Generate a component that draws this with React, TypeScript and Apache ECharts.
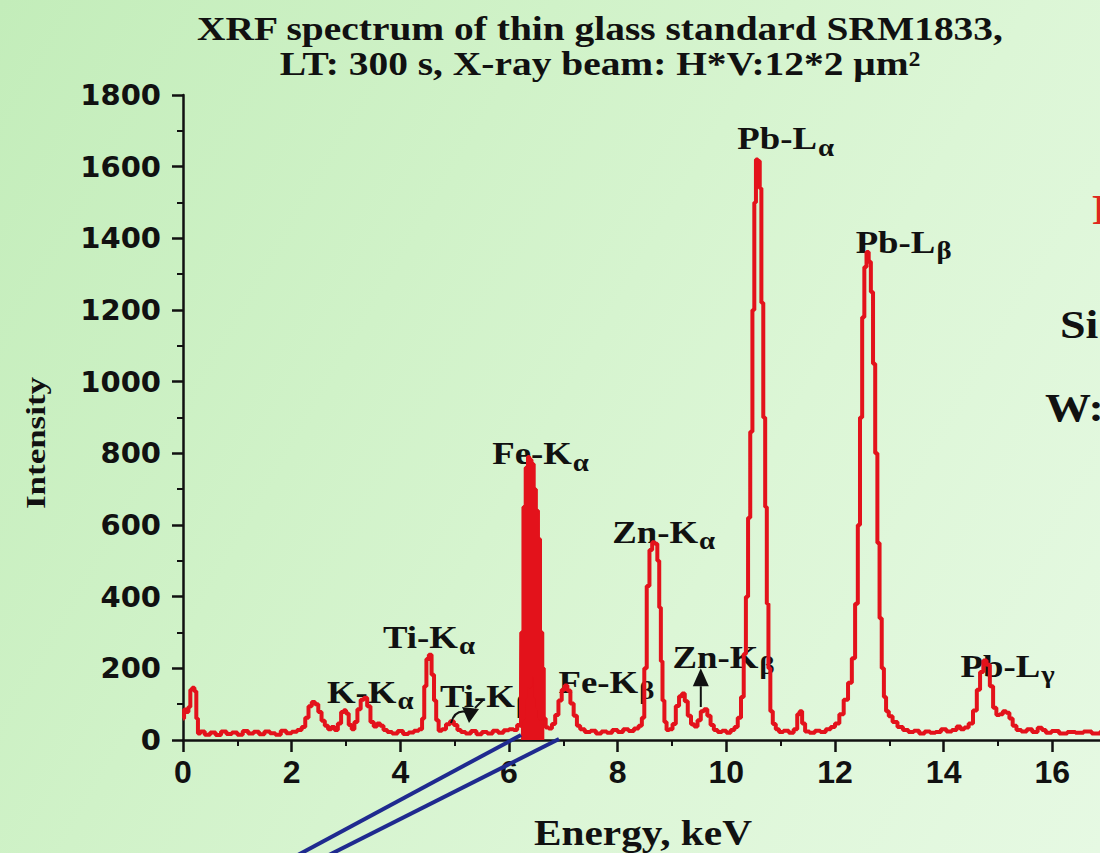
import React, { useEffect, useRef } from "react";
import * as echarts from "echarts";

// Spectrum channels: energy (keV) and counts
const energyKeV: number[] = [
  0.0, 0.04, 0.08, 0.12, 0.15, 0.19, 0.23, 0.26, 0.29, 0.35, 0.45, 0.55, 0.65, 0.75, 0.85, 0.95,
  1.05, 1.15, 1.25, 1.35, 1.45, 1.55, 1.65, 1.75, 1.85, 1.95, 2.05, 2.15, 2.22, 2.28, 2.34, 2.4,
  2.46, 2.52, 2.58, 2.64, 2.7, 2.76, 2.82, 2.88, 2.94, 2.98, 3.02, 3.08, 3.13, 3.18, 3.24, 3.3,
  3.36, 3.42, 3.48, 3.54, 3.6, 3.66, 3.72, 3.8, 3.9, 4.0, 4.1, 4.2, 4.3, 4.38, 4.42, 4.46,
  4.5, 4.55, 4.6, 4.64, 4.68, 4.73, 4.8, 4.88, 4.95, 5.02, 5.08, 5.15, 5.25, 5.35, 5.45, 5.55,
  5.65, 5.75, 5.85, 5.95, 6.05, 6.12, 6.18, 6.22, 6.24, 6.26, 6.28, 6.3, 6.32, 6.34, 6.36, 6.38,
  6.4, 6.42, 6.44, 6.46, 6.48, 6.5, 6.52, 6.54, 6.56, 6.58, 6.6, 6.62, 6.65, 6.7, 6.76, 6.82,
  6.88, 6.94, 7.0, 7.05, 7.1, 7.16, 7.22, 7.28, 7.34, 7.45, 7.55, 7.65, 7.75, 7.85, 7.95, 8.05,
  8.15, 8.25, 8.35, 8.42, 8.47, 8.51, 8.56, 8.61, 8.66, 8.71, 8.75, 8.78, 8.81, 8.84, 8.88, 8.92,
  8.98, 9.04, 9.1, 9.16, 9.21, 9.26, 9.32, 9.38, 9.44, 9.5, 9.56, 9.62, 9.68, 9.74, 9.8, 9.88,
  9.96, 10.04, 10.12, 10.18, 10.24, 10.3, 10.34, 10.38, 10.42, 10.46, 10.5, 10.53, 10.56, 10.6, 10.63, 10.66,
  10.7, 10.73, 10.76, 10.79, 10.83, 10.88, 10.94, 11.0, 11.1, 11.2, 11.28, 11.33, 11.37, 11.42, 11.48, 11.58,
  11.68, 11.78, 11.88, 11.96, 12.04, 12.12, 12.2, 12.28, 12.34, 12.4, 12.44, 12.48, 12.52, 12.56, 12.6, 12.64,
  12.68, 12.72, 12.76, 12.8, 12.84, 12.88, 12.92, 12.96, 13.02, 13.1, 13.2, 13.3, 13.4, 13.5, 13.6, 13.7,
  13.8, 13.9, 14.0, 14.1, 14.2, 14.28, 14.34, 14.42, 14.5, 14.58, 14.64, 14.7, 14.76, 14.82, 14.88, 14.94,
  15.0, 15.06, 15.12, 15.18, 15.24, 15.3, 15.38, 15.48, 15.58, 15.68, 15.78, 15.84, 15.92, 16.05, 16.2, 16.35,
  16.5, 16.65, 16.8, 16.95, 17.1,
];

const intensity: number[] = [
  60, 85, 78, 92, 140, 146, 136, 60, 18, 24, 15, 21, 14, 24, 17, 21,
  15, 25, 18, 23, 16, 24, 19, 15, 26, 19, 23, 28, 36, 62, 94, 106,
  100, 78, 54, 40, 30, 36, 28, 46, 78, 83, 74, 42, 30, 50, 86, 112,
  118, 94, 50, 38, 46, 40, 28, 22, 18, 25, 17, 21, 26, 30, 60, 150,
  226, 238, 182, 110, 55, 26, 30, 44, 52, 42, 28, 22, 18, 25, 16, 22,
  18, 26, 20, 27, 30, 28, 42, 40, 300, 60, 650, 120, 760, 200, 790, 150,
  782, 260, 770, 180, 700, 120, 640, 90, 560, 60, 300, 200, 60, 35, 32, 45,
  70, 110, 140, 152, 138, 102, 68, 40, 30, 22, 26, 18, 24, 20, 28, 22,
  30, 25, 32, 40, 62, 200, 430, 530, 552, 548, 500, 370, 220, 110, 50, 28,
  30, 45, 95, 122, 130, 108, 68, 44, 38, 55, 80, 86, 68, 42, 28, 22,
  26, 20, 28, 36, 62, 120, 240, 400, 620, 860, 1200, 1500, 1620, 1616, 1540, 1220,
  900, 650, 380, 200, 80, 45, 30, 22, 26, 20, 30, 72, 80, 46, 24, 20,
  26, 22, 30, 36, 46, 72, 112, 160, 228, 380, 600, 900, 1180, 1320, 1362, 1335,
  1250, 1050, 800, 550, 340, 200, 120, 80, 66, 50, 36, 28, 22, 26, 18, 24,
  20, 22, 30, 24, 28, 38, 30, 35, 46, 82, 140, 190, 222, 210, 150, 90,
  70, 72, 80, 76, 60, 40, 28, 24, 30, 22, 34, 28, 20, 25, 18, 22,
  20, 24, 18, 22, 20,
];

// the densely packed Fe-Kα channels, drawn as a solid block
const feBlockFromKeV = 6.22;
const feBlockToKeV = 6.65;

const xMin = 0;
const xMax = 18;
const xStep = 2;
const yMin = 0;
const yMax = 1800;
const yStep = 200;

const titleLines = [
  "XRF spectrum of thin glass standard SRM1833,",
  "LT: 300 s, X-ray beam: H*V:12*2 μm²",
];
const xAxisTitle = "Energy, keV";
const yAxisTitle = "Intensity";

// Emission-line annotations: symbol, subscript, anchor (left edge energy, intensity)
const lineSymbol = ["Pb-L", "Pb-L", "Fe-K", "Zn-K", "Ti-K", "K-K", "Ti-K", "Fe-K", "Zn-K", "Pb-L"];
const lineSub = ["α", "β", "α", "α", "α", "α", "β", "β", "β", "γ"];
const lineAnchorKeV = [10.2, 12.38, 5.69, 7.9, 3.68, 2.65, 4.73, 6.91, 9.01, 14.31];
const lineAnchorCounts = [1679, 1391, 800, 582, 289, 135, 124, 163, 233, 207];

const SERIF = "'Liberation Serif', 'Times New Roman', serif";
const INK = "#111111";
const SPECTRUM_RED = "#e3121b";

// plot area: 183 px to the left axis, 54.31 px per keV
const PLOT_LEFT = 183;
const PX_PER_KEV = 54.31;
const CHART_W = Math.round(PLOT_LEFT + xMax * PX_PER_KEV);

export default function App() {
  const ref = useRef<HTMLDivElement>(null);

  useEffect(() => {
    if (!ref.current) return;
    const chart = echarts.init(ref.current, null, { renderer: "svg" });

    const spectrum = energyKeV.map((e, i) => [e, intensity[i]]);
    const feBlock = spectrum.filter(([e]) => e >= feBlockFromKeV && e <= feBlockToKeV);

    chart.setOption({
      animation: false,
      backgroundColor: "transparent",
      grid: {
        left: PLOT_LEFT,
        top: 95,
        bottom: 113,
        right: 0,
        outerBoundsMode: "none",
        containLabel: false,
      },
      xAxis: {
        type: "value",
        min: xMin,
        max: xMax,
        interval: xStep,
        axisLine: { show: true, onZero: false, lineStyle: { color: INK, width: 2.5 } },
        axisTick: { show: true, length: 12, lineStyle: { color: INK, width: 2.5 } },
        minorTick: { show: true, splitNumber: 2, length: 6, lineStyle: { color: INK, width: 2 } },
        splitLine: { show: false },
        axisLabel: {
          color: INK,
          fontFamily: "'Liberation Sans', Arial, sans-serif",
          fontWeight: "bold",
          fontSize: 32,
          margin: 16,
          showMaxLabel: false,
          formatter: (v: number) => String(v),
        },
      },
      yAxis: {
        type: "value",
        min: yMin,
        max: yMax,
        interval: yStep,
        axisLine: { show: true, lineStyle: { color: INK, width: 2.5 } },
        axisTick: { show: true, length: 11, lineStyle: { color: INK, width: 2.5 } },
        minorTick: { show: true, splitNumber: 2, length: 6, lineStyle: { color: INK, width: 2 } },
        splitLine: { show: false },
        axisLabel: {
          color: INK,
          fontFamily: "'DejaVu Sans', sans-serif",
          fontWeight: "bold",
          fontSize: 29,
          margin: 22,
          formatter: (v: number) => String(v),
        },
      },
      series: [
        {
          type: "line",
          data: spectrum,
          symbol: "none",
          showSymbol: false,
          step: "middle",
          z: 3,
          lineStyle: { color: SPECTRUM_RED, width: 4 },
        },
        {
          type: "line",
          data: feBlock,
          symbol: "none",
          showSymbol: false,
          step: "middle",
          z: 3,
          lineStyle: { color: SPECTRUM_RED, width: 4 },
          areaStyle: { color: SPECTRUM_RED, opacity: 1 },
        },
      ],
    });

    const canvas = document.createElement("canvas");
    const ctx = canvas.getContext("2d")!;
    const measure = (txt: string, size: number) => {
      ctx.font = `bold ${size}px ${SERIF}`;
      return ctx.measureText(txt).width;
    };

    const textEl = (
      text: string,
      x: number,
      y: number,
      size: number,
      opts: Record<string, any> = {}
    ) => ({
      type: "text",
      x,
      y,
      z: opts.z ?? 1,
      scaleX: opts.scaleX ?? 1,
      rotation: opts.rotation ?? 0,
      silent: true,
      style: {
        text,
        fill: opts.fill ?? INK,
        font: `bold ${size}px ${SERIF}`,
        textAlign: opts.align ?? "left",
        textVerticalAlign: "middle",
        align: opts.align ?? "left",
        verticalAlign: "middle",
      },
    });

    const elements: any[] = [];

    // title
    elements.push(textEl(titleLines[0], 600, 28, 34, { align: "center", scaleX: 1.16 }));
    elements.push(textEl(titleLines[1], 600, 63, 34, { align: "center", scaleX: 1.16 }));

    // axis titles
    elements.push(textEl(xAxisTitle, 643, 833, 35, { align: "center", scaleX: 1.18 }));
    elements.push(
      textEl(yAxisTitle, 36, 443, 28, { align: "center", scaleX: 1.25, rotation: Math.PI / 2 })
    );

    // emission line labels (drawn beneath the spectrum)
    const mainSize = 32;
    const subSize = 25;
    const stretch = 1.15;
    lineSymbol.forEach((sym, i) => {
      const [px, py] = chart.convertToPixel({ gridIndex: 0 }, [
        lineAnchorKeV[i],
        lineAnchorCounts[i],
      ]) as number[];
      elements.push(textEl(sym, px, py, mainSize, { scaleX: stretch }));
      const w = measure(sym, mainSize) * stretch;
      elements.push(textEl(lineSub[i], px + w + 1, py + 9, subSize, { scaleX: stretch }));
    });

    // arrow to the Ti-Kβ peak
    elements.push({
      type: "bezierCurve",
      z: 5,
      silent: true,
      shape: { x1: 451, y1: 723, cpx1: 455, cpy1: 709, x2: 467, y2: 712 },
      style: { stroke: INK, lineWidth: 2, fill: null },
    });
    elements.push({
      type: "polygon",
      z: 5,
      silent: true,
      shape: { points: [[462, 707], [479, 709], [469, 723]] },
      style: { fill: INK },
    });
    elements.push({
      type: "line",
      z: 5,
      silent: true,
      shape: { x1: 475, y1: 708, x2: 483, y2: 700 },
      style: { stroke: INK, lineWidth: 2 },
    });

    // arrow to the Zn-Kβ peak
    const [ax, ayTip] = chart.convertToPixel({ gridIndex: 0 }, [9.53, 200]) as number[];
    const [, ayBase] = chart.convertToPixel({ gridIndex: 0 }, [9.53, 150]) as number[];
    const [, ayTail] = chart.convertToPixel({ gridIndex: 0 }, [9.53, 92]) as number[];
    elements.push({
      type: "polygon",
      z: 5,
      silent: true,
      shape: { points: [[ax, ayTip], [ax - 8, ayBase], [ax + 8, ayBase]] },
      style: { fill: INK },
    });
    elements.push({
      type: "line",
      z: 5,
      silent: true,
      shape: { x1: ax, y1: ayBase, x2: ax, y2: ayTail },
      style: { stroke: INK, lineWidth: 2 },
    });

    // pointer lines from the iron peak towards the lower left
    elements.push({
      type: "line",
      z: 10,
      silent: true,
      shape: { x1: 521, y1: 735, x2: 296, y2: 856 },
      style: { stroke: "#1f2a8f", lineWidth: 4 },
    });
    elements.push({
      type: "line",
      z: 10,
      silent: true,
      shape: { x1: 559, y1: 739, x2: 327, y2: 856 },
      style: { stroke: "#1f2a8f", lineWidth: 4 },
    });

    // side notes at the right edge
    elements.push(textEl("P", 1092, 210, 42, { scaleX: 1.15, fill: "#e0281e" }));
    elements.push(textEl("Si", 1060, 325, 40, { scaleX: 1.15 }));
    elements.push(textEl("W:", 1045, 408, 40, { scaleX: 1.15 }));

    chart.setOption({ graphic: { elements } });

    return () => chart.dispose();
  }, []);

  return (
    <div
      style={{
        position: "fixed",
        left: 0,
        top: 0,
        width: 1100,
        height: 853,
        overflow: "hidden",
        background:
          "linear-gradient(120deg, #c3edba 0%, #d0f2c8 35%, #dcf6d6 65%, #e6f9e3 100%)",
      }}
    >
      <div ref={ref} style={{ width: CHART_W, height: 853 }} />
    </div>
  );
}
